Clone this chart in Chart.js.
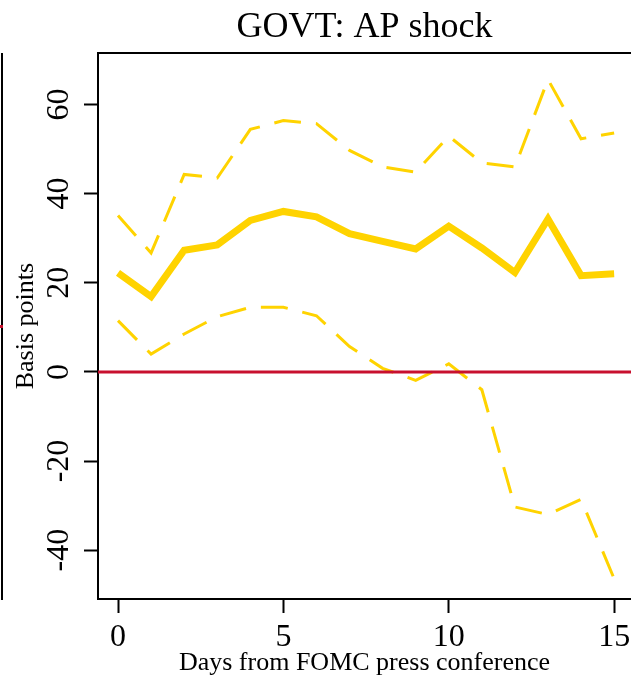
<!DOCTYPE html>
<html><head><meta charset="utf-8">
<script src="https://cdn.jsdelivr.net/npm/chart.js@4"></script>
<style>
html,body{margin:0;padding:0;background:#fff;overflow:hidden}
#wrap{position:relative;width:631px;height:677px}
canvas{display:block}
.frag{position:absolute}
</style></head><body>
<div id="wrap"><canvas id="c" width="631" height="677"></canvas>
<div class="frag" style="left:1px;top:53px;width:2px;height:547px;background:#000"></div>
<div class="frag" style="left:0;top:325px;width:3px;height:3px;background:#C8102E"></div>
</div>
<script>
const days = [0,1,2,3,4,5,6,7,8,9,10,11,12,13,14,15];
const estimate  = [22.2,16.9,27.3,28.5,34.0,36.0,34.8,31.0,29.3,27.6,32.7,27.8,22.3,34.3,21.6,22.0];
const upperBand = [35.1,26.7,44.3,43.5,54.4,56.4,55.7,49.7,46.0,44.8,52.9,46.9,46.0,65.6,52.3,53.6];
const lowerBand = [11.5,4.0,8.5,12.4,14.5,14.5,12.6,5.7,0.8,-1.9,1.8,-4.0,-30.3,-32.0,-28.6,-46.4];
const xTickValues = [0,5,10,15];
const yTickValues = [-40,-20,0,20,40,60];
const xRange = [-0.605, 15.51];
const yRange = [-50.95, 71.5];
const zeroLevel = 0;

const serif = "'Liberation Serif', 'Times New Roman', serif";
const GOLD = '#FFD300';
const RED = '#C8102E';

const pts = arr => days.map((d,i)=>({x:d, y:arr[i]}));

new Chart(document.getElementById('c'), {
  type: 'line',
  data: { datasets: [
    {label:'zero', data: xRange.map(x=>({x, y:zeroLevel})), borderColor:RED, borderWidth:3, pointRadius:0, order:0},
    {label:'estimate', data: pts(estimate), borderColor:GOLD, borderWidth:7, pointRadius:0, tension:0, order:1},
    {label:'upper', data: pts(upperBand), borderColor:GOLD, borderWidth:3, borderDash:[27,15], borderCapStyle:'butt', pointRadius:0, tension:0, order:2},
    {label:'lower', data: pts(lowerBand), borderColor:GOLD, borderWidth:3, borderDash:[27,15], borderCapStyle:'butt', pointRadius:0, tension:0, order:3}
  ]},
  options: {
    responsive:false, animation:false,
    layout:{padding:0},
    plugins:{
      legend:{display:false}, tooltip:{enabled:false},
      title:{display:true, text:'GOVT: AP shock', fullSize:false, color:'#000',
        font:{family:serif, size:36, weight:'normal', lineHeight:1.2}, padding:{top:6,bottom:4}}
    },
    scales:{
      x:{type:'linear', position:'bottom', min:xRange[0], max:xRange[1],
        afterBuildTicks:s=>{s.ticks = xTickValues.map(v=>({value:v}));},
        afterFit:s=>{s.height=78; s.paddingLeft=0; s.paddingRight=0;},
        ticks:{font:{family:serif,size:32}, color:'#000', padding:5, maxRotation:0, autoSkip:false},
        grid:{drawOnChartArea:false, drawTicks:true, tickLength:14, tickWidth:2, color:'#000'},
        border:{display:true, color:'#000', width:2},
        title:{display:true, text:'Days from FOMC press conference', color:'#000',
          font:{family:serif,size:26,lineHeight:1}, padding:{top:0,bottom:1}}
      },
      x2:{type:'linear', position:'top', min:xRange[0], max:xRange[1], display:true,
        ticks:{display:false}, grid:{display:false},
        border:{display:true, color:'#000', width:2},
        afterFit:s=>{s.height=0; s.paddingLeft=0; s.paddingRight=0;}
      },
      y:{type:'linear', position:'left', min:yRange[0], max:yRange[1],
        afterBuildTicks:s=>{s.ticks = yTickValues.map(v=>({value:v}));},
        afterFit:s=>{s.width=98; s.paddingTop=0; s.paddingBottom=0;},
        ticks:{font:{family:serif,size:32}, color:'#000', padding:3, minRotation:90, maxRotation:90, crossAlign:'center', autoSkip:false},
        grid:{drawOnChartArea:false, drawTicks:true, tickLength:14, tickWidth:2, color:'#000'},
        border:{display:true, color:'#000', width:2},
        title:{display:true, text:'Basis points', color:'#000',
          font:{family:serif,size:26,lineHeight:1}, padding:{top:13,bottom:0}}
      }
    }
  }
});
</script>
</body></html>
